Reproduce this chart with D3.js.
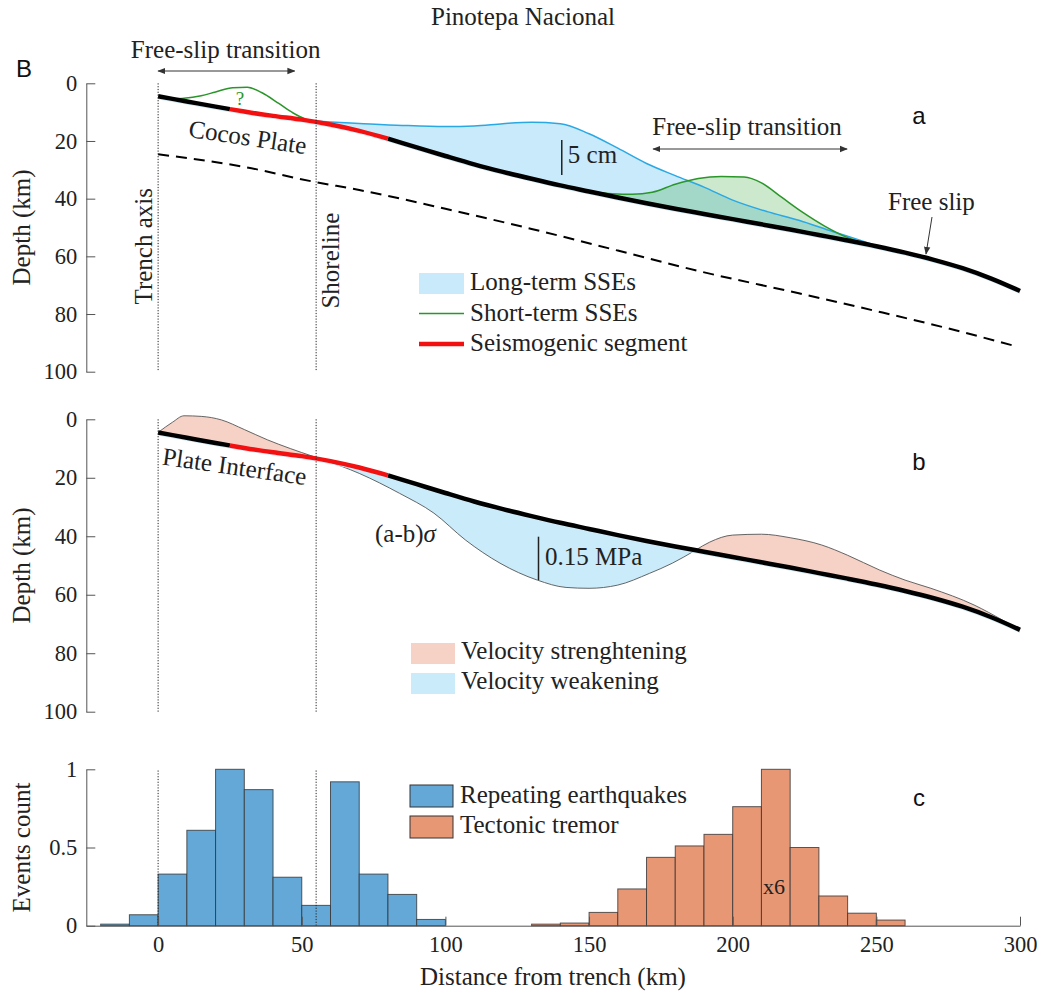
<!DOCTYPE html>
<html>
<head>
<meta charset="utf-8">
<script src="https://cdn.jsdelivr.net/npm/d3@7"></script>
<style>
body { margin: 0; background: #fff; }
</style>
</head>
<body>
<div id="chart"></div>
<script>
// plate interface, distance from trench (km) vs depth (km)
const plateKm = [0,10,20,30,40,50,60,70,80,90,100,110,120,130,140,150,160,170,180,190,200,210,220,230,240,250,260,270,280,290,300];
const plateDepth = [4.5,6.3,8.1,9.8,11.3,12.6,14.3,16.5,19.2,22.2,25.2,28.1,30.7,33.1,35.4,37.5,39.6,41.6,43.5,45.3,47.1,48.9,50.7,52.6,54.5,56.5,58.7,61.2,64.1,67.7,72];

// dashed lower boundary of the Cocos plate
const slabKm = [0,30,54,70,100,130,160,189,223,250,275,299];
const slabDepth = [24.6,29,34.1,37,43.5,50.5,58,65.3,72.8,79,85,91.3];

// seismogenic segment (km range)
const seismoRange = [25, 80];

// long-term SSE top curve
const longKm = [52,60,70,85,100,110,120,130,140,150,160,170,180,190,200,212,223,235,244,252];
const longDepth = [12.9,13.4,13.9,14.6,15,14.8,14,13.5,14,17.5,22.5,27.8,32,36,40.5,44.5,47.5,51.5,54.3,56.9];

// short-term SSEs (near trench, "?") and deep
const short1Km = [5,9,15,20,26,31,36,42,47,52];
const short1Depth = [5.4,5.2,4.3,3,1.5,1.4,3.2,7,10.3,12.8];
const short2Km = [151,158,165,172,180,188,196,204,210,217,224,232,240,247,252];
const short2Depth = [37.7,38.3,38.5,37.8,35,33,32.3,32.5,34.5,39.5,44.5,49.5,53.5,55.6,56.9];

// (a-b)sigma, panel b
const strongNearKm = [0,5,9,15,22,30,38,46,54,58];
const strongNearDepth = [4.5,1,-1.2,-1,0.2,3.5,7,10,12.7,14.0];
const weakKm = [58,70,84,96,107,119,132,142,150,160,171,179,187];
const weakDepth = [14.0,18.5,25.3,32.1,41.3,49.2,55,57.5,57.8,56.7,52.7,49.2,44.8];
const strongFarKm = [187,192,200,210,220,231,240,251,260,269,284,294,300];
const strongFarDepth = [44.8,42,39.6,39.3,40.5,43,46.5,51.5,55,57.8,63.5,68.7,72];

// histograms (bin start, 10 km bins)
const repStart = [-20,-10,0,10,20,30,40,50,60,70,80,90];
const repCount = [0.01,0.07,0.33,0.61,1.0,0.87,0.31,0.13,0.92,0.33,0.20,0.04];
const tremStart = [130,140,150,160,170,180,190,200,210,220,230,240,250];
const tremCount = [0.01,0.017,0.085,0.235,0.437,0.51,0.584,0.761,1.0,0.50,0.19,0.08,0.036];
const binWidth = 10;

// ticks
const depthTicks = [0,20,40,60,80,100];
const countTicks = [0,0.5,1];
const countLabels = ["0","0.5","1"];
const distTicks = [0,50,100,150,200,250,300];
const verticalLines = [0, 55];

const serif = "'Liberation Serif','Times New Roman',serif";
const sans = "'Liberation Sans',Arial,sans-serif";
const axisCol = "#555";
const txtCol = "#222";

const svg = d3.select("#chart").append("svg")
    .attr("width", 1046).attr("height", 996)
    .style("background", "#fff");

const defs = svg.append("defs");
defs.append("marker").attr("id", "arr")
    .attr("viewBox", "0 0 10 10").attr("refX", 9).attr("refY", 5)
    .attr("markerWidth", 8).attr("markerHeight", 8).attr("markerUnits", "userSpaceOnUse")
    .attr("orient", "auto-start-reverse")
  .append("path").attr("d", "M0,1 L10,5 L0,9 z").attr("fill", "#333");

//scales
const x = d3.scaleLinear().domain([-25, 300]).range([86.3, 1020]);
const ya = d3.scaleLinear().domain([0, 100]).range([83.3, 371.7]);
const yb = d3.scaleLinear().domain([0, 100]).range([419.3, 711.7]);
const yc = d3.scaleLinear().domain([0, 1]).range([925.7, 769.3]);

// piecewise linear lookup of plate depth
const plateAt = d3.scaleLinear().domain(plateKm).range(plateDepth);

const zip = (ks, ds) => ks.map((k, i) => [k, ds[i]]);

function lineGen(y){
  return d3.line().x(d => x(d[0])).y(d => y(d[1])).curve(d3.curveMonotoneX);
}
function areaGen(y){
  return d3.area().x(d => x(d[0])).y0(d => y(plateAt(d[0]))).y1(d => y(d[1])).curve(d3.curveMonotoneX);
}
function segment(lo, hi){
  let pts = [[lo, plateAt(lo)]];
  plateKm.forEach((k, i) => { if (k > lo && k < hi) pts.push([k, plateDepth[i]]); });
  pts.push([hi, plateAt(hi)]);
  return pts;
}

function leftAxis(y, ticks, labels){
  const ax = d3.axisLeft(y).tickValues(ticks).tickSizeInner(-9).tickSizeOuter(0).tickPadding(9);
  if (labels) ax.tickFormat((d, i) => labels[i]);
  const g = svg.append("g").attr("transform", `translate(${x(-25)},0)`).call(ax);
  styleAxis(g);
  return g;
}
function styleAxis(g){
  g.select(".domain").attr("stroke", axisCol).attr("stroke-width", 1);
  g.selectAll(".tick line").attr("stroke", axisCol);
  g.selectAll(".tick text").attr("fill", txtCol).attr("font-family", serif).attr("font-size", 22.5);
}

function text(px, py, str, o = {}){
  const t = svg.append("text")
      .attr("x", px).attr("y", py)
      .attr("font-family", o.family || serif)
      .attr("font-size", o.size || 25)
      .attr("fill", o.color || txtCol)
      .attr("text-anchor", o.anchor || "start")
      .text(str);
  if (o.rotate !== undefined) t.attr("transform", `rotate(${o.rotate},${px},${py})`);
  return t;
}

function dotted(y, y0, y1){
  verticalLines.forEach(k => {
    svg.append("line")
        .attr("x1", x(k)).attr("x2", x(k))
        .attr("y1", y(y0)).attr("y2", y(y1))
        .attr("stroke", "#222").attr("stroke-width", 1)
        .attr("stroke-dasharray", "1.2,1.6");
  });
}

function plateLines(y){
  // faint offset line under the interface
  svg.append("path").datum(plateKm.map((k, i) => [k, plateDepth[i] + 0.9]))
      .attr("d", lineGen(y)).attr("fill", "none")
      .attr("stroke", "#cfeaf8").attr("stroke-width", 1);
  [[0, seismoRange[0]], [seismoRange[1], 300]].forEach(r => {
    svg.append("path").datum(segment(r[0], r[1]))
        .attr("d", lineGen(y)).attr("fill", "none")
        .attr("stroke", "#000").attr("stroke-width", 4.5);
  });
  svg.append("path").datum(segment(seismoRange[0], seismoRange[1]))
      .attr("d", lineGen(y)).attr("fill", "none")
      .attr("stroke", "#f21010").attr("stroke-width", 4.5);
}

// ---------------- panel a ----------------
svg.append("path").datum(zip(longKm, longDepth))
    .attr("d", areaGen(ya)).attr("fill", "#0aa0e6").attr("fill-opacity", 0.22);
svg.append("path").datum(zip(short2Km, short2Depth))
    .attr("d", areaGen(ya)).attr("fill", "#1a9a1a").attr("fill-opacity", 0.22);
svg.append("path").datum(zip(longKm, longDepth))
    .attr("d", lineGen(ya)).attr("fill", "none").attr("stroke", "#2aa8e4").attr("stroke-width", 1.5);
[zip(short1Km, short1Depth), zip(short2Km, short2Depth)].forEach(d => {
  svg.append("path").datum(d)
      .attr("d", lineGen(ya)).attr("fill", "none").attr("stroke", "#2a962a").attr("stroke-width", 1.5);
});
plateLines(ya);
svg.append("path").datum(zip(slabKm, slabDepth))
    .attr("d", lineGen(ya)).attr("fill", "none")
    .attr("stroke", "#000").attr("stroke-width", 2).attr("stroke-dasharray", "11,7");
dotted(ya, 0, 100);
leftAxis(ya, depthTicks);

// annotations a
text(x(23.5), 58, "Free-slip transition", {anchor: "middle"});
svg.append("line").attr("x1", x(0)).attr("x2", x(47.5)).attr("y1", 71).attr("y2", 71)
    .attr("stroke", "#333").attr("stroke-width", 1)
    .attr("marker-start", "url(#arr)").attr("marker-end", "url(#arr)");
text(x(28.5), ya(7.5), "?", {anchor: "middle", size: 19, color: "#2a962a"});
text(x(10.3), ya(18.5), "Cocos Plate", {rotate: 8.5});
text(x(0) - 6, ya(56.5), "Trench axis", {anchor: "middle", rotate: -90});
text(x(55) + 23, ya(61.5), "Shoreline", {anchor: "middle", rotate: -90});
svg.append("line").attr("x1", x(140.5)).attr("x2", x(140.5)).attr("y1", ya(19.7)).attr("y2", ya(31.8))
    .attr("stroke", "#222").attr("stroke-width", 1.5);
text(x(142.6), ya(27.6), "5 cm");
text(x(205), 135, "Free-slip transition", {anchor: "middle"});
svg.append("line").attr("x1", x(172.3)).attr("x2", x(239.8)).attr("y1", 149).attr("y2", 149)
    .attr("stroke", "#333").attr("stroke-width", 1)
    .attr("marker-start", "url(#arr)").attr("marker-end", "url(#arr)");
text(888, 210, "Free slip");
svg.append("line").attr("x1", 932).attr("y1", 217).attr("x2", 926).attr("y2", 254)
    .attr("stroke", "#333").attr("stroke-width", 1).attr("marker-end", "url(#arr)");
text(919, 124, "a", {family: sans, size: 24, anchor: "middle", color: "#111"});
text(16, 77, "B", {family: sans, size: 24, color: "#111"});
text(523, 25, "Pinotepa Nacional", {anchor: "middle"});
text(30, ya(50), "Depth (km)", {anchor: "middle", rotate: -90});

// legend a
svg.append("rect").attr("x", 419).attr("y", 273).attr("width", 45).attr("height", 21)
    .attr("fill", "#0aa0e6").attr("fill-opacity", 0.22);
text(470, 290, "Long-term SSEs");
svg.append("line").attr("x1", 419).attr("x2", 464).attr("y1", 313.5).attr("y2", 313.5)
    .attr("stroke", "#2a962a").attr("stroke-width", 1.5);
text(470, 320.5, "Short-term SSEs");
svg.append("line").attr("x1", 419).attr("x2", 464).attr("y1", 344).attr("y2", 344)
    .attr("stroke", "#f21010").attr("stroke-width", 4.5);
text(470, 350.5, "Seismogenic segment");

// ---------------- panel b ----------------
[zip(strongNearKm, strongNearDepth), zip(strongFarKm, strongFarDepth)].forEach(d => {
  svg.append("path").datum(d).attr("d", areaGen(yb)).attr("fill", "#f5d1c6").attr("stroke", "none");
  svg.append("path").datum(d).attr("d", lineGen(yb)).attr("fill", "none").attr("stroke", "#555").attr("stroke-width", 0.9);
});
svg.append("path").datum(zip(weakKm, weakDepth))
    .attr("d", areaGen(yb)).attr("fill", "#c9ebfa");
svg.append("path").datum(zip(weakKm, weakDepth))
    .attr("d", lineGen(yb)).attr("fill", "none").attr("stroke", "#555").attr("stroke-width", 0.9);
plateLines(yb);
dotted(yb, 0, 100);
leftAxis(yb, depthTicks);

text(x(1.2), yb(15.5), "Plate Interface", {rotate: 8.1});
text(375, 541.7, "(a-b)").append("tspan").attr("font-style", "italic").text("σ");
svg.append("line").attr("x1", x(132.4)).attr("x2", x(132.4)).attr("y1", 536.7).attr("y2", 580)
    .attr("stroke", "#222").attr("stroke-width", 1.5);
text(545, 565, "0.15 MPa");
text(919, 470, "b", {family: sans, size: 24, anchor: "middle", color: "#111"});
text(30, yb(50), "Depth (km)", {anchor: "middle", rotate: -90});

svg.append("rect").attr("x", 411).attr("y", 643).attr("width", 44).attr("height", 21).attr("fill", "#f5d1c6");
text(461, 659, "Velocity strenghtening");
svg.append("rect").attr("x", 411).attr("y", 673).attr("width", 44).attr("height", 21).attr("fill", "#c9ebfa");
text(461, 689, "Velocity weakening");

// ---------------- panel c ----------------
function bars(starts, counts, color){
  svg.append("g").selectAll("rect")
      .data(starts.map((s, i) => ({s: s, c: counts[i]})))
      .join("rect")
      .attr("x", d => x(d.s))
      .attr("width", d => x(d.s + binWidth) - x(d.s))
      .attr("y", d => yc(d.c))
      .attr("height", d => yc(0) - yc(d.c))
      .attr("fill", color)
      .attr("stroke", "#333").attr("stroke-opacity", 0.8).attr("stroke-width", 1);
}
bars(repStart, repCount, "#64a8d8");
bars(tremStart, tremCount, "#e89774");
dotted(yc, 0, 1);

leftAxis(yc, countTicks, countLabels);
const axB = d3.axisBottom(x).tickValues(distTicks).tickSizeInner(-9).tickSizeOuter(0).tickPadding(10);
const gB = svg.append("g").attr("transform", `translate(0,${yc(0)})`).call(axB);
styleAxis(gB);

text(763, 894, "x6", {size: 22});
text(919, 806, "c", {family: sans, size: 24, anchor: "middle", color: "#111"});
text(30, yc(0.5), "Events count", {anchor: "middle", rotate: -90});
text(553, 985, "Distance from trench (km)", {anchor: "middle"});

svg.append("rect").attr("x", 410).attr("y", 785).attr("width", 43).attr("height", 22)
    .attr("fill", "#64a8d8").attr("stroke", "#333").attr("stroke-width", 1);
text(460, 803, "Repeating earthquakes");
svg.append("rect").attr("x", 410).attr("y", 816).attr("width", 43).attr("height", 22)
    .attr("fill", "#e89774").attr("stroke", "#333").attr("stroke-width", 1);
text(460, 833, "Tectonic tremor");
</script>
</body>
</html>
